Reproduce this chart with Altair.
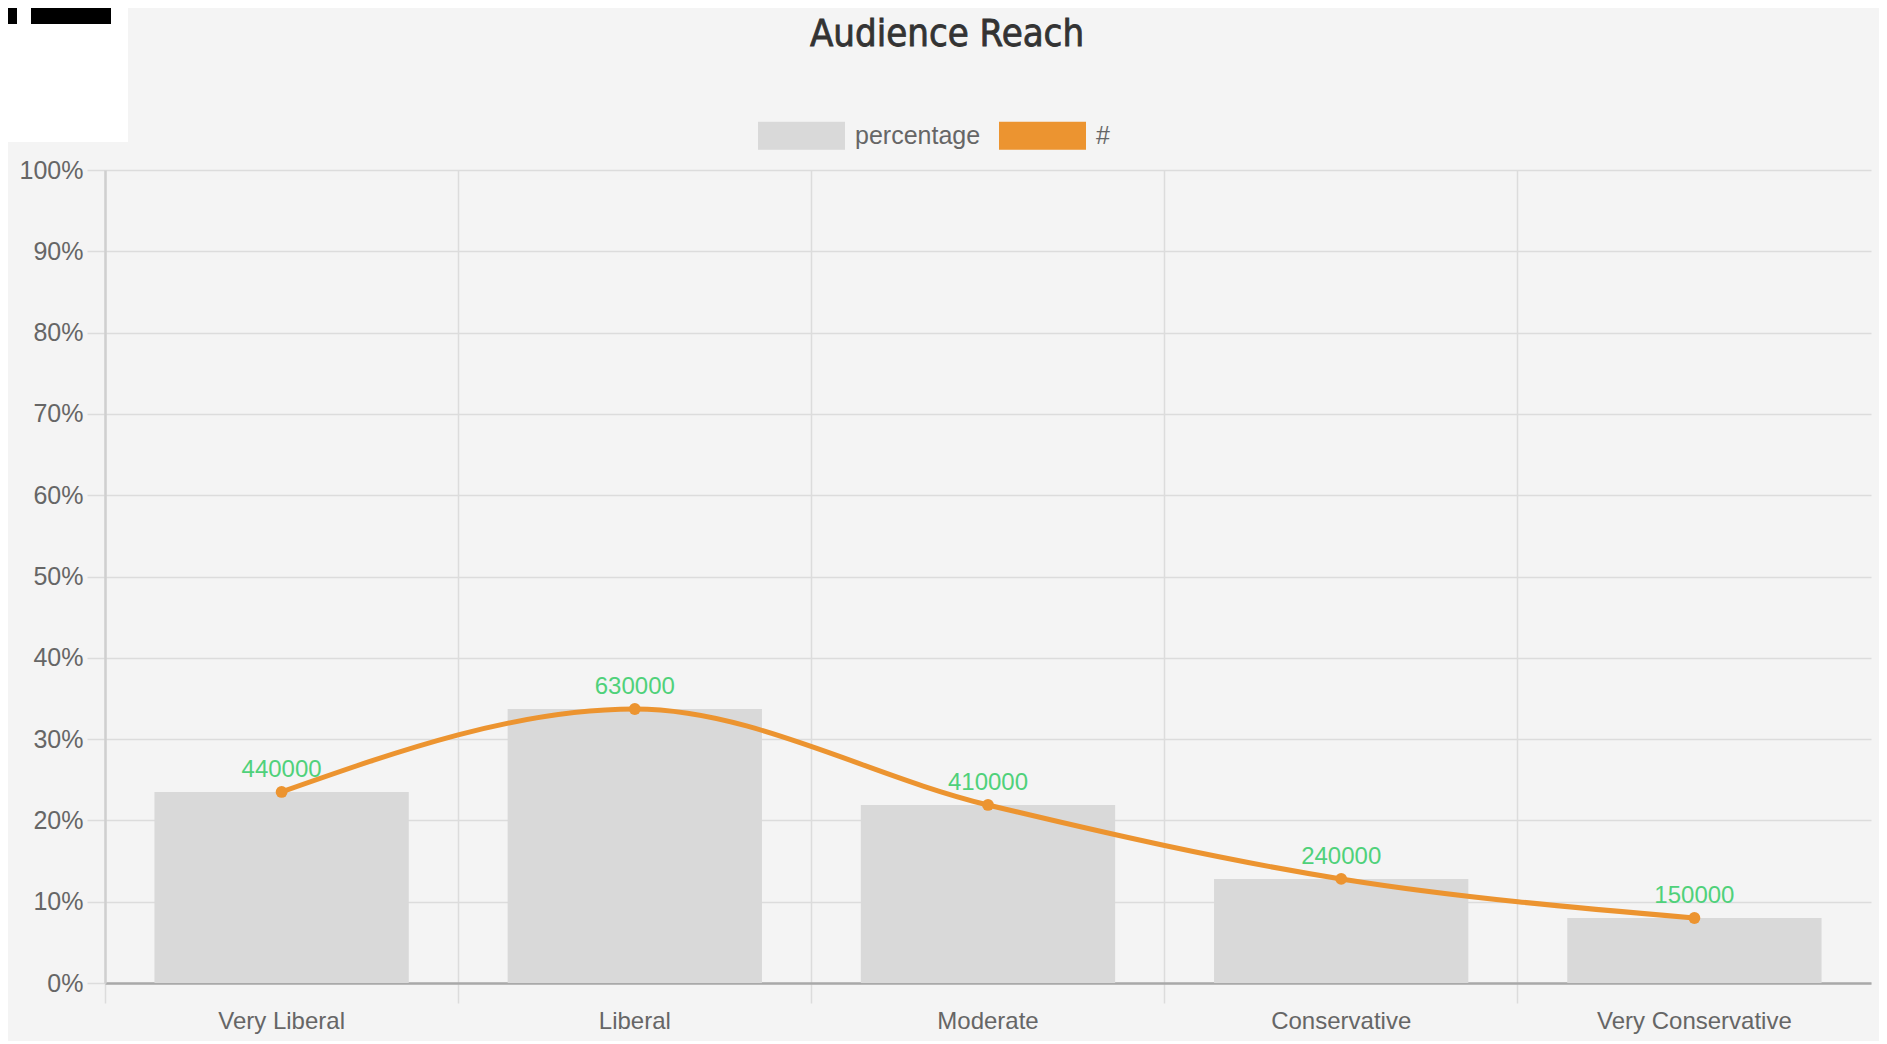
import altair as alt
import pandas as pd

categories = ["Very Liberal", "Liberal", "Moderate", "Conservative", "Very Conservative"]
percentages = [0.235, 0.337, 0.219, 0.128, 0.080]
counts = [440000, 630000, 410000, 240000, 150000]
series_names = ["percentage", "#"]
title_text = ["Audience Reach"]

df = pd.DataFrame({
    "category": categories,
    "pct": percentages,
    "count": counts,
    "series": ["percentage"] * len(categories),
})

W, H = 1766, 813
GRAY = "#d9d9d9"
ORANGE = "#ec9430"
GREEN = "#4fd17a"
FONT = "Liberation Sans"

x_enc = alt.X(
    "category:N",
    sort=categories,
    title=None,
    scale=alt.Scale(paddingInner=0, paddingOuter=0),
    axis=alt.Axis(
        bandPosition=0,
        labelAngle=0,
        labelFontSize=24,
        labelColor="#666666",
        labelFont=FONT,
        labelPadding=6,
        labelLimit=0,
        tickSize=20,
        tickColor="#dcdcdc",
        tickWidth=1.5,
        grid=True,
        gridColor="#dcdcdc",
        gridWidth=1.5,
        domainColor="#a9a9a9",
        domainWidth=2.5,
    ),
)

y_enc = alt.Y(
    "pct:Q",
    title=None,
    scale=alt.Scale(domain=[0, 1]),
    axis=alt.Axis(
        format="%",
        values=[i / 10 for i in range(11)],
        labelFontSize=25,
        labelColor="#666666",
        labelFont=FONT,
        labelPadding=4,
        tickSize=18,
        tickColor="#dcdcdc",
        tickWidth=1.5,
        grid=True,
        gridColor="#dcdcdc",
        gridWidth=1.5,
        domainColor="#cfcfcf",
        domainWidth=2.5,
    ),
)

base = alt.Chart(df)

bars = base.mark_bar(width=alt.RelativeBandSize(0.72)).encode(
    x=x_enc,
    y=y_enc,
    color=alt.Color(
        "series:N",
        scale=alt.Scale(domain=series_names, range=[GRAY, ORANGE]),
        legend=alt.Legend(
            title=None,
            orient="none",
            legendX=653,
            legendY=-78,
            direction="horizontal",
            symbolType="M-1,-0.32H1V0.32H-1Z",
            symbolSize=7569,
            symbolStrokeWidth=0,
            labelFontSize=25,
            labelColor="#666666",
            labelFont=FONT,
            labelOffset=10,
            columnPadding=18,
        ),
    ),
)

line = base.mark_line(
    interpolate="monotone", color=ORANGE, strokeWidth=5
).encode(x=alt.X("category:N", sort=categories), y="pct:Q")

points = base.mark_point(
    filled=True, size=140, color=ORANGE, opacity=1
).encode(x=alt.X("category:N", sort=categories), y="pct:Q")

labels = base.mark_text(
    dy=-15, baseline="alphabetic", fontSize=24, color=GREEN, font=FONT
).encode(x=alt.X("category:N", sort=categories), y="pct:Q", text="count:Q")

title_mark = alt.Chart(pd.DataFrame({"t": title_text})).mark_text(
    font="DejaVu Sans Condensed, Liberation Sans Narrow, sans-serif",
    fontSize=38,
    fontWeight="normal",
    color="#333333",
    stroke="#333333",
    strokeWidth=0.8,
    align="center",
    baseline="alphabetic",
).encode(x=alt.value(842), y=alt.value(-124), text="t:N")

white_box = base.mark_rect(color="white").encode(
    x=alt.value(-110), x2=alt.value(23), y=alt.value(-175), y2=alt.value(-28)
)
logo1 = base.mark_rect(color="black").encode(
    x=alt.value(-110), x2=alt.value(-88), y=alt.value(-175), y2=alt.value(-146)
)
logo2 = base.mark_rect(color="black").encode(
    x=alt.value(-74), x2=alt.value(6), y=alt.value(-175), y2=alt.value(-146)
)

chart = alt.layer(
    white_box, logo1, logo2, bars, line, points, labels, title_mark
).properties(
    width=W,
    height=H,
    autosize=alt.AutoSizeParams(type="none"),
    padding={"left": 97, "top": 162, "right": 8, "bottom": 58},
    background="#f4f4f4",
).configure_view(stroke=None)

chart.save("out.html", embed_options={"renderer": "svg", "actions": False})
